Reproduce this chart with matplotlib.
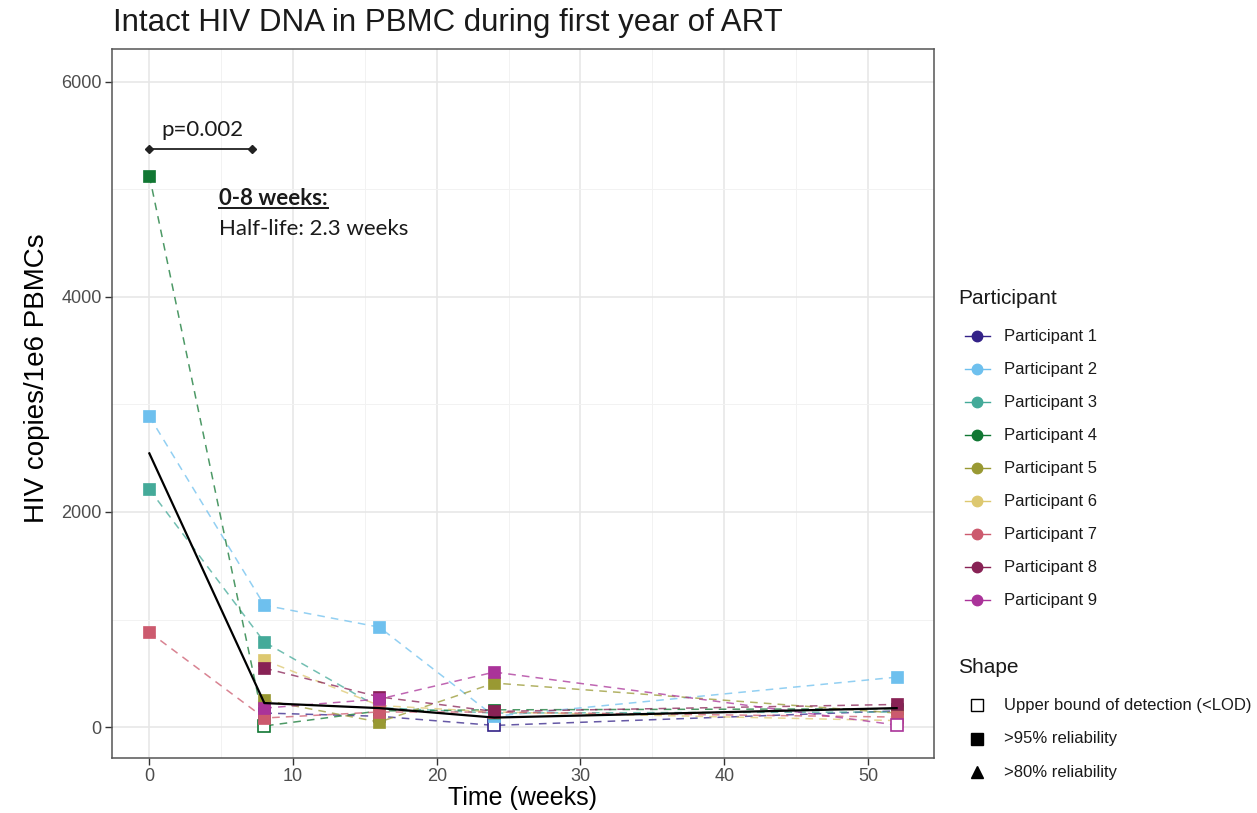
import matplotlib
matplotlib.use('Agg')
import matplotlib.pyplot as plt
from matplotlib.lines import Line2D
import numpy as np

# data
weeks = [0, 8, 16, 24, 52]
participants = ['Participant 1', 'Participant 2', 'Participant 3', 'Participant 4', 'Participant 5',
                'Participant 6', 'Participant 7', 'Participant 8', 'Participant 9']
colors = ['#332288', '#6ec0ee', '#44aa99', '#117733', '#999933', '#ddc870', '#cc5a6e', '#882255', '#aa3399']
p1_values = [np.nan, 130, 100, 15, 150]
p2_values = [2889, 1133, 929, 100, 464]
p3_values = [2210, 790, 180, 130, 140]
p4_values = [5127, 10, 150, 160, 170]
p5_values = [np.nan, 250, 46, 409, 130]
p6_values = [np.nan, 622, 200, 140, 60]
p7_values = [882, 84, 140, 139, 93]
p8_values = [np.nan, 548, 280, 145, 210]
p9_values = [np.nan, 176, 260, 511, 19]
# 'lod' = upper bound of detection (open square), 'r95' = >95% reliability (filled square)
p1_shapes = ['r95', 'r95', 'r95', 'lod', 'r95']
p2_shapes = ['r95'] * 5
p3_shapes = ['r95'] * 5
p4_shapes = ['r95', 'lod', 'r95', 'r95', 'r95']
p5_shapes = ['r95'] * 5
p6_shapes = ['r95'] * 5
p7_shapes = ['r95'] * 5
p8_shapes = ['r95'] * 5
p9_shapes = ['r95', 'r95', 'r95', 'r95', 'lod']
mean_values = [2545, 223, 176, 88, 176]

all_values = [p1_values, p2_values, p3_values, p4_values, p5_values, p6_values, p7_values, p8_values, p9_values]
all_shapes = [p1_shapes, p2_shapes, p3_shapes, p4_shapes, p5_shapes, p6_shapes, p7_shapes, p8_shapes, p9_shapes]

shape_labels = ['Upper bound of detection (<LOD)', '>95% reliability', '>80% reliability']

plt.rcParams['font.family'] = ['Liberation Sans', 'DejaVu Sans']

W, H = 1257, 813
fig = plt.figure(figsize=(W / 100, H / 100), dpi=100)
ax = fig.add_axes([112 / W, 1 - 758 / H, 822 / W, 709 / H])

# dashed participant lines first so the markers sit on top
for vals, col in zip(all_values, colors):
    ax.plot(weeks, vals, ls=(0, (5, 4)), lw=1.1, color=col, alpha=0.75, zorder=3)

for vals, shapes, col in zip(all_values, all_shapes, colors):
    for w, v, s in zip(weeks, vals, shapes):
        if np.isnan(v):
            continue
        if s == 'lod':
            ax.plot(w, v, marker='s', ms=8.5, mfc='white', mec=col, mew=1.2, ls='none', zorder=4)
        else:
            ax.plot(w, v, marker='s', ms=9, mfc=col, mec=col, mew=0.5, ls='none', zorder=4)

# group mean line
ax.plot(weeks, mean_values, color='black', lw=1.6, zorder=5)

ax.set_xlim(-2.6, 54.6)
ax.set_ylim(-288, 6306)
ax.set_xticks([0, 10, 20, 30, 40, 50])
ax.set_xticks([5, 15, 25, 35, 45], minor=True)
ax.set_yticks([0, 2000, 4000, 6000])
ax.set_yticks([1000, 3000, 5000], minor=True)
ax.grid(which='major', color='#e6e6e6', lw=1.1, zorder=0)
ax.grid(which='minor', color='#f2f2f2', lw=0.7, zorder=0)
ax.set_axisbelow(True)
ax.tick_params(axis='both', which='major', length=5, width=1.0, color='#333333', labelcolor='#4d4d4d',
               labelsize=13, pad=2.5)
ax.tick_params(axis='both', which='minor', length=0)
for sp in ax.spines.values():
    sp.set_color('#555555')
    sp.set_linewidth(1.1)

fig.text(113 / W, 1 - 23 / H, 'Intact HIV DNA in PBMC during first year of ART', fontsize=22.5,
         ha='left', va='center', color='#1a1a1a')
fig.text(523 / W, 1 - 798 / H, 'Time (weeks)', fontsize=18, ha='center', va='center')
fig.text(37 / W, 1 - 378 / H, 'HIV copies/1e6 PBMCs', fontsize=20, ha='center', va='center', rotation=90)

# p-value bracket and half-life note
ann_font = ['Lato', 'DejaVu Sans']
ax.plot([0, 7.15], [5377, 5377], color='#222222', lw=1.3, marker='D', ms=4.5, zorder=6)
ax.text(0.85, 5554, 'p=0.002', fontsize=16, family=ann_font, ha='left', va='center', color='#1a1a1a')
head = ax.text(4.84, 4920, '0-8 weeks:', fontsize=16, family=ann_font, fontweight='bold', ha='left',
               va='center', color='#1a1a1a')
ax.text(4.84, 4633, 'Half-life: 2.3 weeks', fontsize=16, family=ann_font, ha='left', va='center',
        color='#1a1a1a')
fig.canvas.draw()
bb = head.get_window_extent().transformed(fig.transFigure.inverted())
fig.add_artist(Line2D([bb.x0, bb.x1], [bb.y0 + 0.001, bb.y0 + 0.001], transform=fig.transFigure,
                      color='#1a1a1a', lw=1.4))

# legends drawn by hand to match the ggplot guide layout
fig.text(958 / W, 1 - 298 / H, 'Participant', fontsize=15, ha='left', va='center', color='#1a1a1a')
for i, (name, col) in enumerate(zip(participants, colors)):
    y = 1 - (336 + i * 33) / H
    fig.add_artist(Line2D([965 / W, 990 / W], [y, y], transform=fig.transFigure, color=col, lw=1.0))
    fig.add_artist(Line2D([977 / W], [y], transform=fig.transFigure, color=col, marker='o', ms=7.5, ls='none'))
    fig.text(1004 / W, y, name, fontsize=12, ha='left', va='center', color='#1a1a1a')

fig.text(958 / W, 1 - 667 / H, 'Shape', fontsize=15, ha='left', va='center', color='#1a1a1a')
shape_styles = [dict(marker='s', mfc='white', mec='black', mew=1.0, ms=8),
                dict(marker='s', mfc='black', mec='black', ms=8),
                dict(marker='^', mfc='black', mec='black', ms=9)]
for i, (lab, st) in enumerate(zip(shape_labels, shape_styles)):
    y = 1 - (705 + i * 33.5) / H
    fig.add_artist(Line2D([977 / W], [y], transform=fig.transFigure, ls='none', **st))
    fig.text(1004 / W, y, lab, fontsize=12, ha='left', va='center', color='#1a1a1a')

fig.savefig('out.png', dpi=100)
